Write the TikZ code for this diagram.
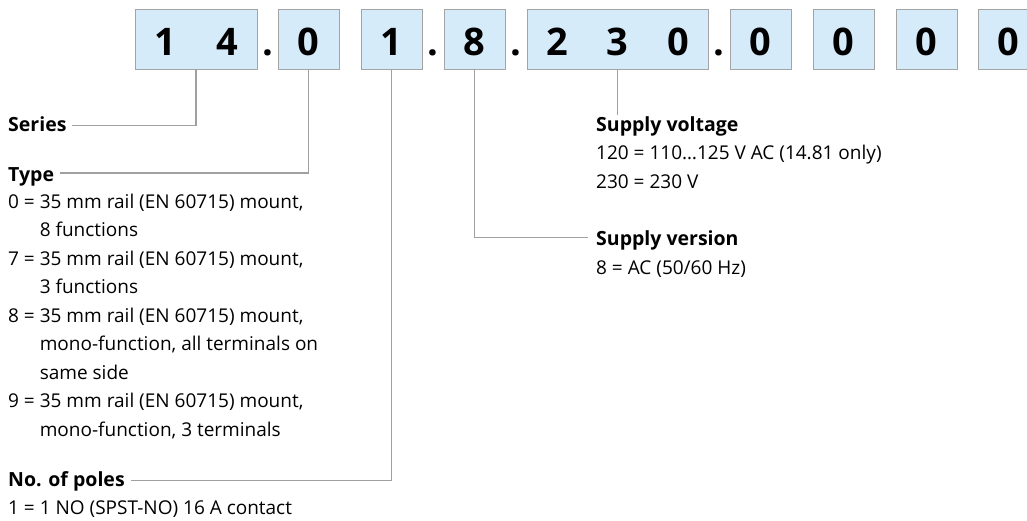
\documentclass[tikz,border=0pt]{standalone}
\usepackage{fontspec}
\setmainfont{Open Sans}
\definecolor{boxfill}{HTML}{D6EBFA}
\definecolor{boxline}{HTML}{A4A4A4}
\definecolor{connline}{HTML}{A0A0A0}
\tikzset{
  codebox/.style={draw=boxline, fill=boxfill, line width=1pt, minimum height=60pt, inner sep=0pt},
  digit/.style={anchor=base, inner sep=0pt, font=\fontsize{38}{38}\selectfont\bfseries},
  conn/.style={draw=connline, line width=1.2pt},
  head/.style={anchor=base west, inner sep=0pt, font=\fontsize{19.5}{28.5}\selectfont\bfseries},
  body/.style={anchor=base west, inner sep=0pt, font=\fontsize{19}{28.5}\selectfont},
}
\begin{document}
\begin{tikzpicture}[x=1pt,y=-1pt]
\useasboundingbox (0,0) rectangle (1027,520);
% boxes
\node[codebox, minimum width=122pt] (b1) at (196,39) {};
\node[codebox, minimum width=61pt] (b2) at (308.5,39) {};
\node[codebox, minimum width=61pt] (b3) at (391.5,39) {};
\node[codebox, minimum width=61pt] (b4) at (474.5,39) {};
\node[codebox, minimum width=181pt] (b5) at (617.5,39) {};
\node[codebox, minimum width=61pt] (b6) at (760.5,39) {};
\node[codebox, minimum width=61pt] (b7) at (843.5,39) {};
\node[codebox, minimum width=61pt] (b8) at (926.5,39) {};
\node[codebox, minimum width=61pt] (b9) at (1008.5,39) {};
% digits
\node[digit] (d1a) at (165,55) {1};
\node[digit] (d1b) at (227,55) {4};
\node[digit] (d2) at (308.5,55) {0};
\node[digit] (d3) at (391.5,55) {1};
\node[digit] (d4) at (474.5,55) {8};
\node[digit] (d5a) at (557,55) {2};
\node[digit] (d5b) at (617.5,55) {3};
\node[digit] (d5c) at (678,55) {0};
\node[digit] (d6) at (760.5,55) {0};
\node[digit] (d7) at (843.5,55) {0};
\node[digit] (d8) at (926.5,55) {0};
\node[digit] (d9) at (1008.5,55) {0};
% dots
\node[digit] (p1) at (268,55) {.};
\node[digit] (p2) at (433,55) {.};
\node[digit] (p3) at (516,55) {.};
\node[digit] (p4) at (719,55) {.};
% left labels
\node[head] (series) at (8,131) {Series};
\node[head] (type) at (8,181) {Type};
\node[body] (typelist) at (8,208) {\begin{tabular}[t]{@{}l@{\ }l@{}}
0 = & 35 mm rail (EN 60715) mount,\\
    & 8 functions\\
7 = & 35 mm rail (EN 60715) mount,\\
    & 3 functions\\
8 = & 35 mm rail (EN 60715) mount,\\
    & mono-function, all terminals on\\
    & same side\\
9 = & 35 mm rail (EN 60715) mount,\\
    & mono-function, 3 terminals
\end{tabular}};
\node[head] (poles) at (8,486.5) {No. of poles};
\node[body] (poleslist) at (8,514.5) {1 = 1 NO (SPST-NO) 16 A contact};
% right labels
\node[head] (voltage) at (596,131) {Supply voltage};
\node[body] (voltagelist) at (596,159.5) {\begin{tabular}[t]{@{}l@{}}
120 = 110…125 V AC (14.81 only)\\
230 = 230 V
\end{tabular}};
\node[head] (version) at (596,245.5) {Supply version};
\node[body] (versionlist) at (596,274) {8 = AC (50/60 Hz)};
% connector ends
\coordinate (cseries) at (72,125.5);
\coordinate (ctype) at (60,173);
\coordinate (cpoles) at (131,480.5);
\coordinate (cversion) at (587.5,237.5);
\coordinate (cvoltage) at (617.5,115);
% connectors
\draw[conn] (b1.south) |- (cseries);
\draw[conn] (b2.south) |- (ctype);
\draw[conn] (b3.south) |- (cpoles);
\draw[conn] (b4.south) |- (cversion);
\draw[conn] (b5.south) -- (cvoltage);
\end{tikzpicture}
\end{document}
